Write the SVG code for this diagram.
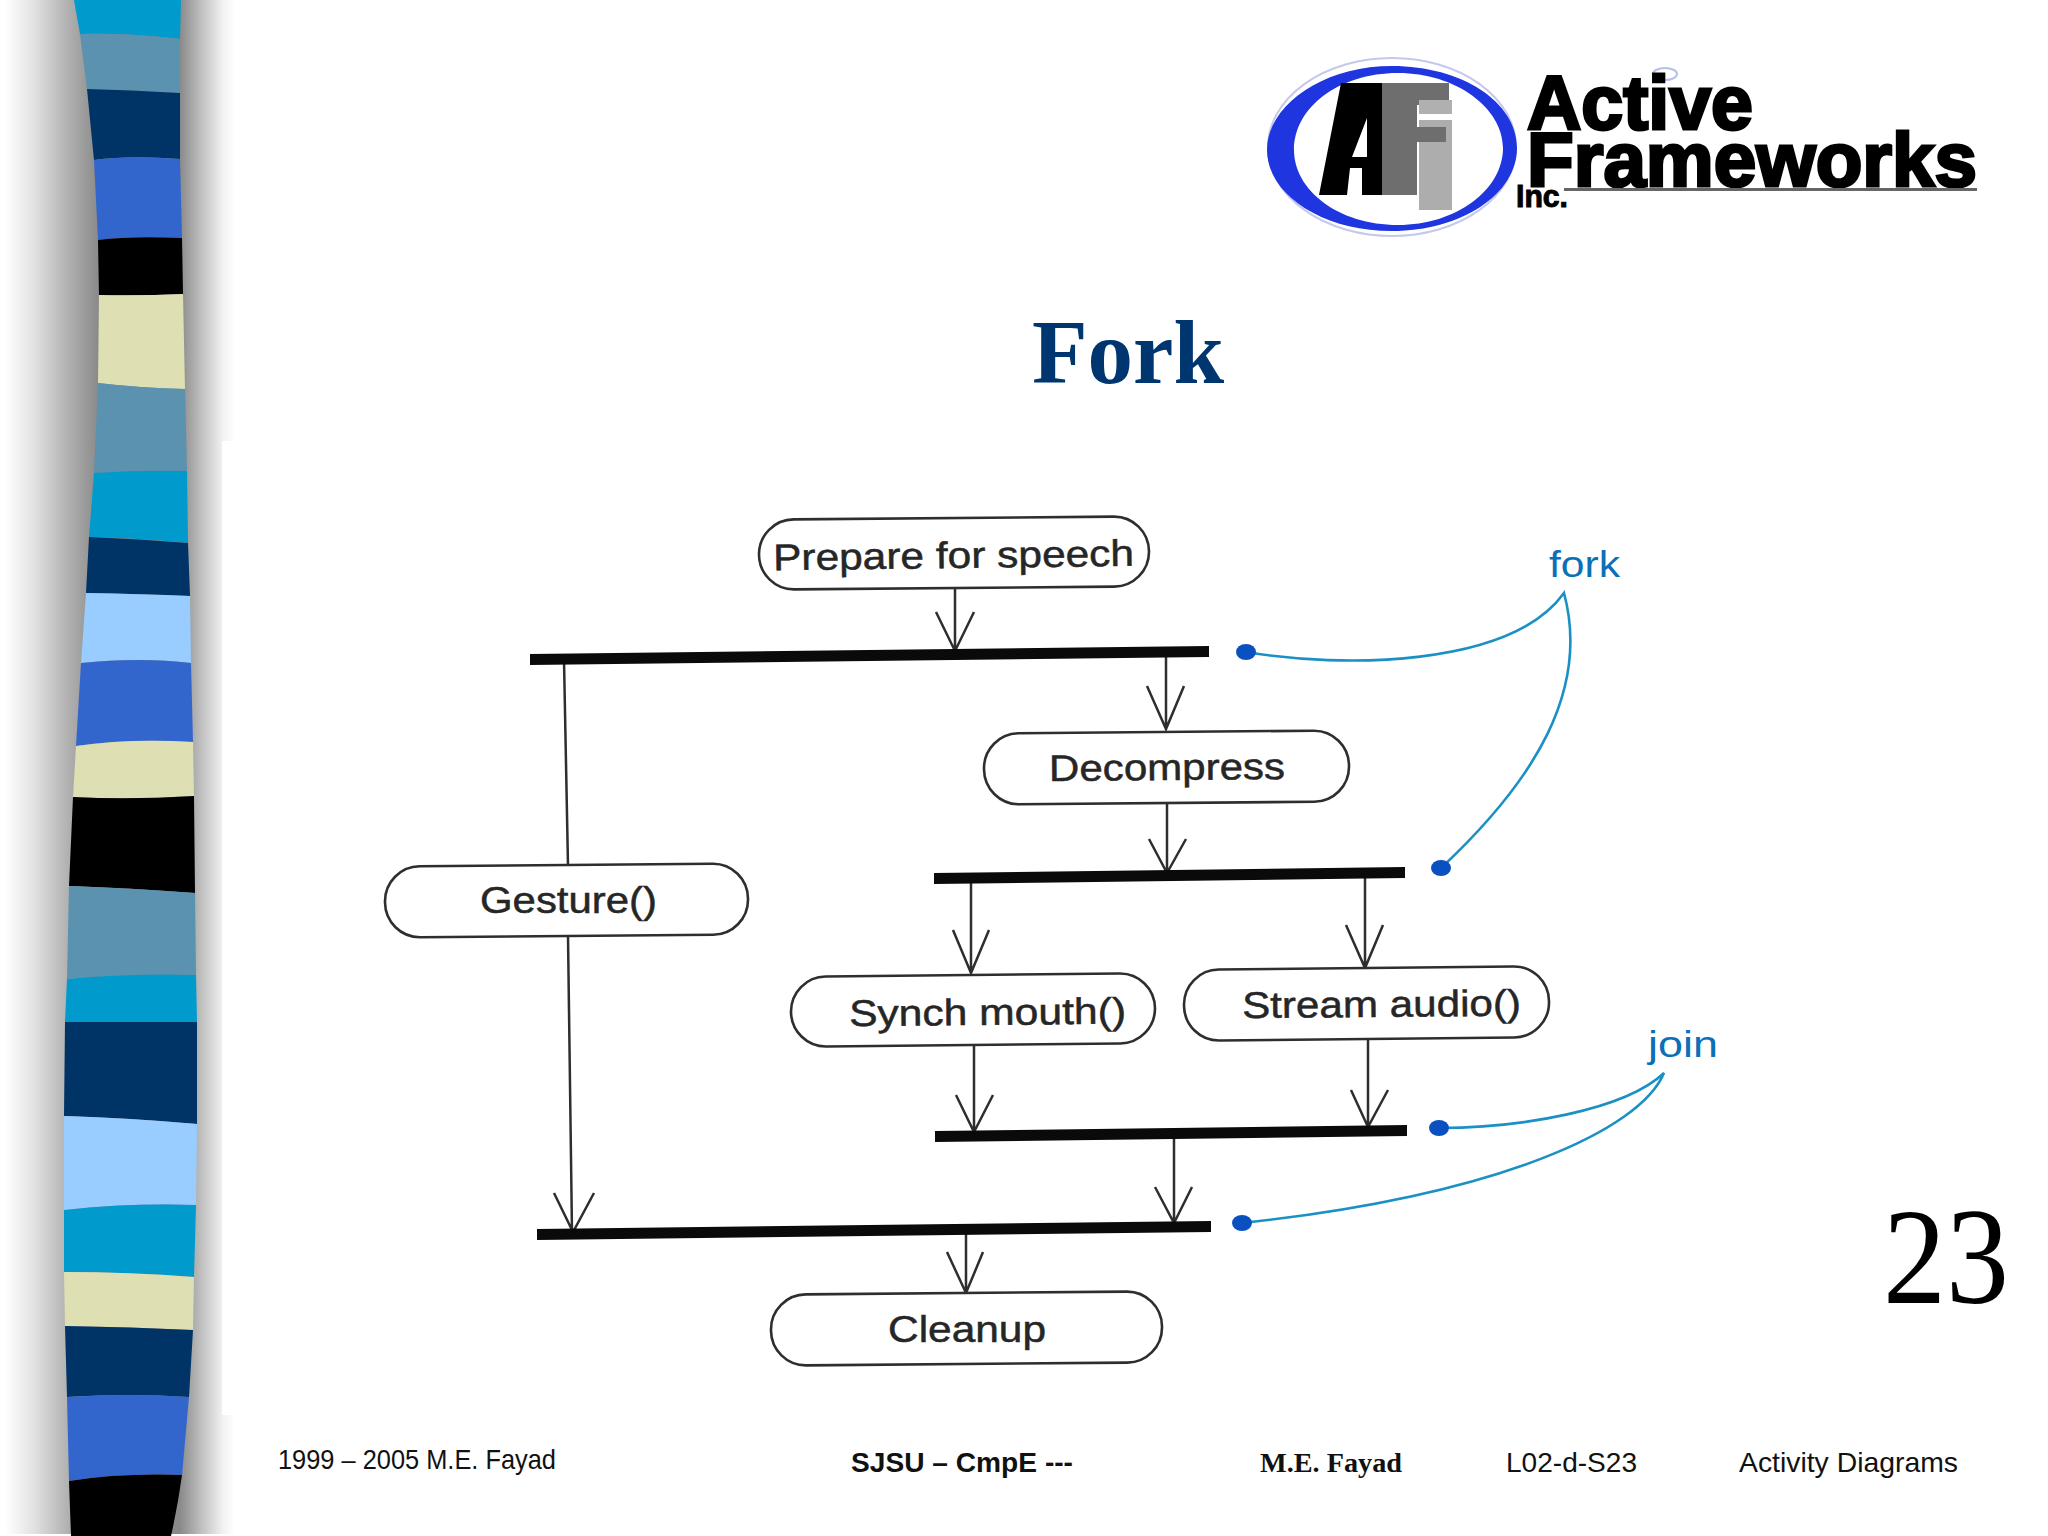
<svg xmlns="http://www.w3.org/2000/svg" width="2048" height="1536" viewBox="0 0 2048 1536">
<style>
.lbl{font-family:"Liberation Sans",Arial,sans-serif;font-size:37px;fill:#262626;stroke:#262626;stroke-width:.5}
.note{font-family:"Liberation Sans",Arial,sans-serif;font-size:37px;fill:#0a70b8}
.node{fill:#fff;stroke:#2e2e2e;stroke-width:2.6}
.bar{fill:#0a0a0a}
.ln{fill:none;stroke:#2e2e2e;stroke-width:2.5}
.call{fill:none;stroke:#1a90c4;stroke-width:2.6}
.dot{fill:#0a50c0}
.foot{font-family:"Liberation Sans",Arial,sans-serif;font-size:28px;fill:#111}
.logo{font-family:"Liberation Sans",Arial,sans-serif;font-weight:700;fill:#000;stroke:#000}
</style>
<defs>
<linearGradient id="shade" gradientUnits="userSpaceOnUse" x1="0" y1="0" x2="240" y2="0">
<stop offset=".02" stop-color="#fff"/>
<stop offset=".14" stop-color="#e2e2e2"/>
<stop offset=".28" stop-color="#b2b2b2"/>
<stop offset=".41" stop-color="#8a8a8a"/>
<stop offset=".75" stop-color="#8a8a8a"/>
<stop offset=".84" stop-color="#c0c0c0"/>
<stop offset=".93" stop-color="#f2f2f2"/>
<stop offset=".98" stop-color="#fff"/>
</linearGradient>
</defs>
<rect width="2048" height="1536" fill="#fff"/>
<g id="strip">
<rect x="0" y="0" width="240" height="1534" fill="url(#shade)"/>
<rect x="222" y="441" width="26" height="974" fill="#fff"/>
<rect x="233" y="1415" width="10" height="121" fill="#fff"/>
<path d="M74 0L181 0L180 39Q130 33 80 34Z" fill="#009ACC"/>
<path d="M80 34Q130 33 180 39L180 93Q130 90 87 89Z" fill="#5A92AF"/>
<path d="M87 89Q130 90 180 93L180 159Q130 155 94 160Z" fill="#003366"/>
<path d="M94 160Q130 155 180 159L182 238Q130 236 98 240Z" fill="#3366CC"/>
<path d="M98 240Q130 236 182 238L183 294Q140 296 99 295Z" fill="#000"/>
<path d="M99 295Q140 296 183 294L185 389Q140 388 98 383Z" fill="#DEDFB3"/>
<path d="M98 383Q140 388 185 389L187 471Q140 470 94 473Z" fill="#5A92AF"/>
<path d="M94 473Q140 470 187 471L188 543Q140 538 89 537Z" fill="#009ACC"/>
<path d="M89 537Q140 539 188 543L190 596Q140 594 86 593Z" fill="#003366"/>
<path d="M86 593Q140 594 190 596L191 663Q140 657 81 663Z" fill="#99CCFF"/>
<path d="M81 663Q140 657 191 663L193 742Q130 738 76 746Z" fill="#3366CC"/>
<path d="M76 746Q130 738 193 742L194 796Q130 800 73 797Z" fill="#DEDFB3"/>
<path d="M73 797Q130 800 194 796L195 893Q130 888 69 886Z" fill="#000"/>
<path d="M69 886Q130 888 195 893L196 975Q130 973 67 979Z" fill="#5A92AF"/>
<path d="M67 979Q130 973 196 975L197 1022L65 1022Z" fill="#009ACC"/>
<path d="M65 1022L197 1022L197 1124Q130 1118 64 1116Z" fill="#003366"/>
<path d="M64 1116Q130 1118 197 1124L196 1205Q130 1203 64 1210Z" fill="#99CCFF"/>
<path d="M64 1210Q130 1203 196 1205L194 1277Q130 1272 64 1272Z" fill="#009ACC"/>
<path d="M64 1272Q130 1272 194 1277L193 1330Q130 1327 65 1326Z" fill="#DEDFB3"/>
<path d="M65 1326Q130 1327 193 1330L189 1397Q130 1393 67 1397Z" fill="#003366"/>
<path d="M67 1397Q130 1393 189 1397L182 1475Q120 1473 69 1481Z" fill="#3366CC"/>
<path d="M69 1481Q120 1473 182 1475Q178 1505 171 1536L71 1536Z" fill="#000"/>
</g>
<g id="logo">
<ellipse cx="1392" cy="147" rx="124" ry="89" fill="none" stroke="#c4c8ec" stroke-width="2"/>
<path fill-rule="evenodd" d="M1392 66C1322 66 1267 106 1267 150C1267 194 1322 231 1392 231C1462 231 1517 194 1517 148C1517 102 1462 66 1392 66ZM1398 73C1456 73 1503 108 1503 148C1503 190 1456 225 1398 225C1338 225 1294 190 1294 150C1294 108 1338 73 1398 73Z" fill="#1f35e0"/>
<path d="M1319 195L1341 83L1382 83L1382 195L1362 195L1362 168L1350 168L1347 195ZM1367 118L1352 157L1367 157Z" fill="#000" fill-rule="evenodd"/>
<path d="M1382 83L1449 83L1449 105L1417 105L1417 195L1382 195Z" fill="#6e6e6e"/>
<rect x="1419" y="100" width="33" height="14" fill="#b0b0b0"/>
<rect x="1419" y="120" width="33" height="90" fill="#adadad"/>
<rect x="1417" y="127" width="29" height="15" fill="#6e6e6e"/>
<ellipse cx="1665" cy="74" rx="12" ry="6" fill="#fff" stroke="#b6c0e8" stroke-width="2"/>
<text class="logo" x="1527" y="129" font-size="76" stroke-width="3" textLength="226" lengthAdjust="spacingAndGlyphs">Active</text>
<text class="logo" x="1527" y="186" font-size="76" stroke-width="3" textLength="450" lengthAdjust="spacingAndGlyphs">Frameworks</text>
<rect x="1564" y="188" width="413" height="3" fill="#666"/>
<text class="logo" x="1516" y="207" font-size="32" stroke-width="1" textLength="52" lengthAdjust="spacingAndGlyphs">Inc.</text>
</g>
<text id="title" x="1128" y="383" text-anchor="middle" font-family="'Liberation Serif','Times New Roman',serif" font-size="91" font-weight="700" fill="#003670">Fork</text>
<g id="connectors">
<path class="ln" d="M955 588L955 651M936 612L955 651L974 612"/>
<path class="ln" d="M564 660L568 866"/>
<path class="ln" d="M568 936L572 1232M554 1193L573 1232L594 1193"/>
<path class="ln" d="M1166 653L1166 729M1147 686L1166 729L1184 686"/>
<path class="ln" d="M1167 803L1167 873M1149 839L1167 873L1186 839"/>
<path class="ln" d="M971 878L971 973M953 930L971 973L989 930"/>
<path class="ln" d="M1365 875L1365 968M1346 925L1365 968L1383 925"/>
<path class="ln" d="M974 1045L974 1132M956 1095L974 1132L993 1095"/>
<path class="ln" d="M1368 1038L1368 1127M1351 1090L1368 1127L1388 1090"/>
<path class="ln" d="M1174 1133L1174 1223M1155 1187L1174 1223L1192 1187"/>
<path class="ln" d="M966 1232L966 1293M947 1252L966 1293L983 1252"/>
<path class="call" d="M1246 652C1340 668 1510 668 1564 593C1590 690 1535 780 1441 868"/>
<path class="call" d="M1439 1128C1520 1128 1625 1110 1664 1073C1640 1130 1500 1195 1242 1223"/>
<ellipse class="dot" cx="1246" cy="652" rx="10" ry="8"/>
<ellipse class="dot" cx="1441" cy="868" rx="10" ry="8"/>
<ellipse class="dot" cx="1439" cy="1128" rx="10" ry="8"/>
<ellipse class="dot" cx="1242" cy="1223" rx="10" ry="8"/>
</g>
<g id="bars">
<path class="bar" d="M530 654L1209 646L1209 657L530 665Z"/>
<path class="bar" d="M934 873L1405 867L1405 878L934 884Z"/>
<path class="bar" d="M935 1131L1407 1125L1407 1136L935 1142Z"/>
<path class="bar" d="M537 1229L1211 1221L1211 1232L537 1240Z"/>
</g>
<g id="prepare"><rect class="node" x="759" y="518" width="390" height="70" rx="35" transform="rotate(-.5 954 553)"/><text class="lbl" x="773" y="568" textLength="361" lengthAdjust="spacingAndGlyphs" transform="rotate(-.7 954 553)">Prepare for speech</text></g>
<g id="gesture"><rect class="node" x="385" y="865" width="363" height="71" rx="35" transform="rotate(-.5 566 900)"/><text class="lbl" x="480" y="913" textLength="177" lengthAdjust="spacingAndGlyphs">Gesture()</text></g>
<g id="decompress"><rect class="node" x="984" y="732" width="365" height="71" rx="35" transform="rotate(-.5 1166 767)"/><text class="lbl" x="1049" y="780" textLength="236" lengthAdjust="spacingAndGlyphs" transform="rotate(-.5 1166 767)">Decompress</text></g>
<g id="synch"><rect class="node" x="791" y="975" width="364" height="70" rx="35" transform="rotate(-.6 973 1010)"/><text class="lbl" x="849" y="1025" textLength="277" lengthAdjust="spacingAndGlyphs" transform="rotate(-.5 973 1010)">Synch mouth()</text></g>
<g id="stream"><rect class="node" x="1184" y="968" width="365" height="71" rx="35" transform="rotate(-.6 1366 1003)"/><text class="lbl" x="1242" y="1017" textLength="279" lengthAdjust="spacingAndGlyphs" transform="rotate(-.5 1366 1003)">Stream audio()</text></g>
<g id="cleanup"><rect class="node" x="771" y="1293" width="391" height="71" rx="35" transform="rotate(-.5 966 1329)"/><text class="lbl" x="888" y="1342" textLength="158" lengthAdjust="spacingAndGlyphs">Cleanup</text></g>
<text id="fork-note" class="note" x="1549" y="577" textLength="71" lengthAdjust="spacingAndGlyphs">fork</text>
<text id="join-note" class="note" x="1648" y="1057" textLength="70" lengthAdjust="spacingAndGlyphs">join</text>
<text id="page-number" x="1883" y="1303" font-family="'Liberation Serif','Times New Roman',serif" font-size="138" fill="#000" textLength="126" lengthAdjust="spacingAndGlyphs">23</text>
<g id="footer">
<text class="foot" x="278" y="1469" textLength="278" lengthAdjust="spacingAndGlyphs">1999 – 2005 M.E. Fayad</text>
<text class="foot" x="851" y="1472" font-weight="700" textLength="222" lengthAdjust="spacingAndGlyphs">SJSU – CmpE ---</text>
<text x="1260" y="1472" font-family="'Liberation Serif','Times New Roman',serif" font-size="28" font-weight="700" fill="#111" textLength="142" lengthAdjust="spacingAndGlyphs">M.E. Fayad</text>
<text class="foot" x="1506" y="1472" textLength="131" lengthAdjust="spacingAndGlyphs">L02-d-S23</text>
<text class="foot" x="1739" y="1472" textLength="219" lengthAdjust="spacingAndGlyphs">Activity Diagrams</text>
</g>
</svg>
